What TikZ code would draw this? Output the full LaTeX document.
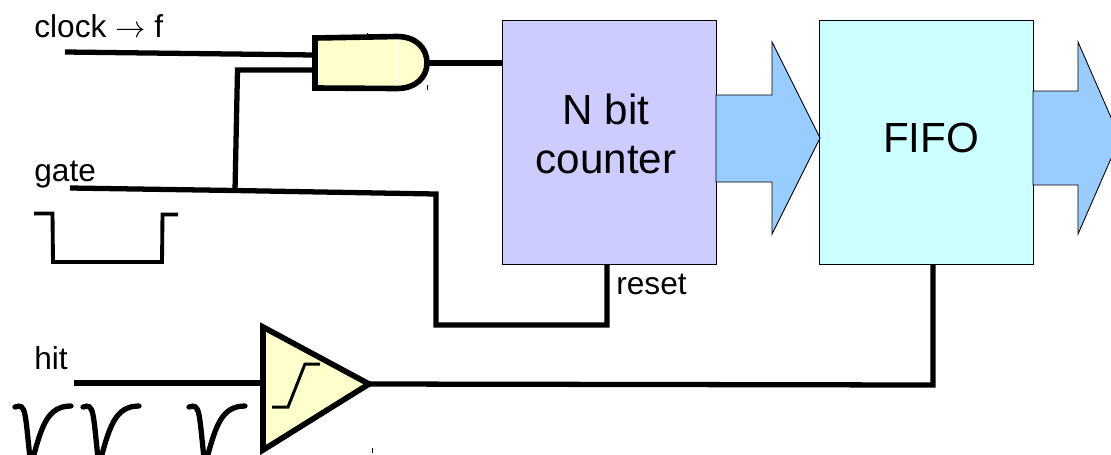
\documentclass[tikz,border=0pt]{standalone}
\usepackage{fontspec}
\setmainfont{Liberation Sans}
\usepackage{xcolor}
\usetikzlibrary{positioning}
\definecolor{counterblue}{HTML}{CCCCFF}
\definecolor{fifocyan}{HTML}{CCFFFF}
\definecolor{busblue}{HTML}{99CCFF}
\definecolor{gateyellow}{HTML}{FFFFCC}

\begin{document}
\begin{tikzpicture}[x=0.02cm, y=-0.02cm]
    \tikzstyle{block} = [rectangle, draw=black, line width=0.5pt, minimum width=4.28cm, minimum height=4.88cm, inner sep=0pt]
    \tikzstyle{blocktext} = [font=\fontsize{24}{28}\selectfont, align=center, inner sep=0pt]
    \tikzstyle{signal} = [font=\fontsize{18}{20}\selectfont, anchor=base west, inner sep=0pt]
    \tikzstyle{wire} = [line width=3pt]
    \tikzstyle{gateshape} = [draw=black, fill=gateyellow, line width=3.2pt]
    \tikzstyle{bus} = [draw=black, fill=busblue, line width=0.5pt]
    \tikzstyle{thinwave} = [line width=1.7pt]
    \tikzstyle{tick} = [line width=0.4pt]

    \useasboundingbox (0,0) rectangle (1111,454);
    \clip (0,0) rectangle (1111,454);

    \node (counter) [block, fill=counterblue] at (609,142) {};
    \node (fifo) [block, fill=fifocyan] at (926.5,142) {};
    \node (counterlabel) [blocktext] at (606,134) {N bit\\counter};
    \node (fifolabel) [blocktext] at (931,138) {FIFO};
    \node (resetlabel) [signal] at (616,294) {reset};

    \node (clocklabel) [signal] at (34,37) {clock $\rightarrow$ f};
    \node (gatelabel) [signal] at (34,181) {gate};
    \node (hitlabel) [signal] at (34,369) {hit};

    % Bus arrows
    \draw[bus] (716,95) -- (772,95) -- (772,42) -- (820,138) -- (772,234) -- (772,182) -- (716,182) -- cycle;
    \draw[bus] (1033,91) -- (1078,91) -- (1078,42) -- (1120,138) -- (1078,234) -- (1078,185) -- (1033,185) -- cycle;

    % Gate symbols
    \draw[gateshape] (315,38) -- (397,36.5) .. controls (416,36.5) and (427,48) .. (427,63) .. controls (427,77) and (416,88.5) .. (397,88.5) -- (315,88) -- cycle;
    \draw[white, line width=0.5pt] (396,40) -- (396,86);
    \draw[gateshape] (263,327) -- (369,384) -- (263,450) -- cycle;
    \draw[thinwave] (272,407) -- (288,407) -- (305,364) -- (320,364);

    \coordinate (clockin) at (65,52);
    \coordinate (andin1) at (315,55);
    \coordinate (andin2) at (315,70);
    \coordinate (andout) at (427,63);
    \coordinate (gatein) at (70,188);
    \coordinate (gatejoint) at (235,190.5);
    \coordinate (gatecorner) at (436,194);
    \coordinate (hitin) at (74,383);
    \coordinate (compin) at (263,383);
    \coordinate (compout) at (369,384);

    % Wires
    \draw[wire] (clockin) -- (andin1);
    \draw[wire] (andin2) -- (237.5,70) -- (gatejoint);
    \draw[wire] (gatein) -- (gatejoint) -- (gatecorner) -- (436,325) -- (607,325) -- (607,264);
    \draw[wire] (andout) -- (502,63);
    \draw[wire] (hitin) -- (compin);
    \draw[wire] (compout) -- (933,385) -- (933,264);

    % Waveforms
    \draw[thinwave, line width=2.2pt] (34,213.5) -- (52.5,213.5) -- (53,262) -- (162,262) -- (162.5,214.5) -- (178,214.5);
    \foreach \dx in {0,68,174} {
        \draw[line width=3pt, line cap=round, xshift=\dx*0.02cm] (15,407) .. controls (26,403) and (25,412) .. (30,458) -- (33,458) .. controls (42,425) and (48,406) .. (71,406);
    }

    % Stray marks
    \draw[tick] (427,85) -- (427,90);
    \draw[tick] (367,33) -- (367,36);
    \draw[tick] (372,448) -- (372,453);
\end{tikzpicture}
\end{document}
